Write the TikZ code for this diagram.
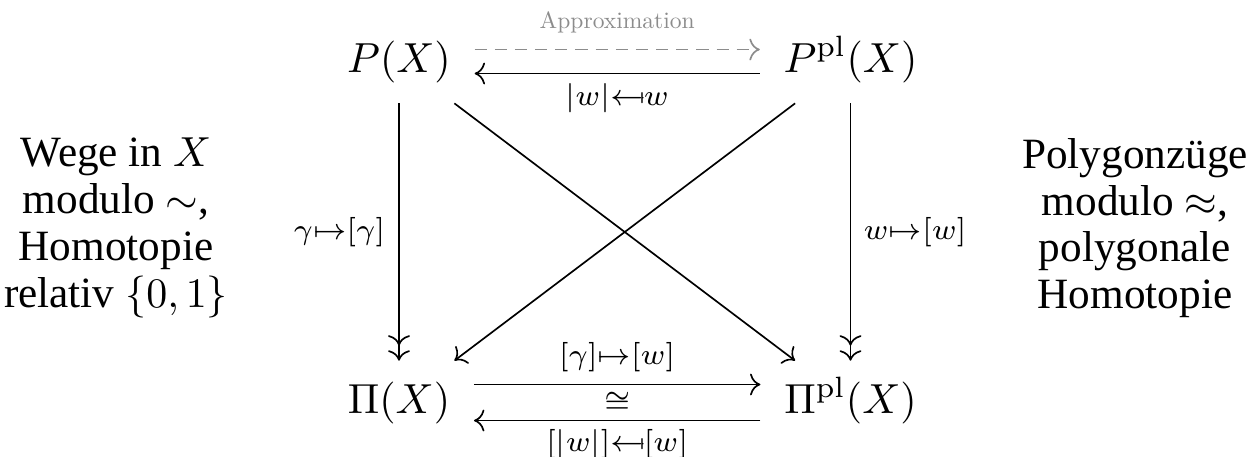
\documentclass[tikz,border=0pt]{standalone}
\usepackage{fontspec}
\newfontfamily\sidefont{Liberation Serif}
\newfontfamily\approxfont{lmroman10-regular.otf}
\usetikzlibrary{arrows.meta}
\definecolor{approxgray}{gray}{0.55}
\newcommand{\mymapsfrom}{\mathrel{\leftarrow\mkern-2.5mu\mapstochar\mkern2.5mu}}
\newcommand{\lbl}[1]{$\scriptstyle #1$}
\begin{document}
\begin{tikzpicture}[x=0.238095pt,y=-0.238095pt,
  obj/.style={font=\fontsize{10}{12}\selectfont, text height=7.5pt, text depth=2.5pt, inner xsep=5.48pt, inner ysep=4.76pt, anchor=base},
  lab/.style={font=\fontsize{10}{12}\selectfont, inner sep=0pt},
  side/.style={font=\fontsize{10.29}{11.14}\selectfont\sidefont, align=center, inner sep=0pt},
  arr/.style={line width=0.4pt, -{Computer Modern Rightarrow}},
  epi/.style={line width=0.4pt, -{Computer Modern Rightarrow[sep=1.1pt]Computer Modern Rightarrow}},
  approx/.style={arr, draw=approxgray, dash pattern=on 2.9pt off 1.9pt},
]
\useasboundingbox (0,0) rectangle (1248,456);
% objects
\node[obj] (P)    at (399,72)   {$P(X)$};
\node[obj] (Ppl)  at (850.5,72) {$P^{\mathrm{pl}}(X)$};
\node[obj] (Pi)   at (399,413)  {$\Pi(X)$};
\node[obj] (Pipl) at (850.5,413){$\Pi^{\mathrm{pl}}(X)$};
% side texts
\node[side] (L) at (116,228) {Wege in $X$\\modulo $\sim$,\\Homotopie\\relativ $\{0,1\}$};
\node[side] (R) at (1135,228) {Polygonzüge\\modulo $\approx$,\\polygonale\\Homotopie};
% top row
\draw[approx] ([yshift=2.857pt]P.east) -- ([yshift=2.857pt]Ppl.west)
  node[midway, above=3.8pt, inner sep=0pt, font=\fontsize{5.6}{7}\approxfont, text=approxgray] (ap) {Approximation};
\draw[arr] ([yshift=-2.857pt]Ppl.west) -- ([yshift=-2.857pt]P.east)
  node[midway, below=2.14pt, lab] (l1) {\lbl{|w|\mymapsfrom w}};
% verticals
\draw[epi] (P) -- (Pi) node[midway, left=3.1pt, lab] (l2) {\lbl{\gamma\mapsto[\gamma]}};
\draw[epi] (Ppl) -- (Pipl) node[midway, right=2.95pt, lab] (l3) {\lbl{w\mapsto[w]}};
% diagonals
\draw[arr] (P) -- (Pipl);
\draw[arr] (Ppl) -- (Pi);
% bottom row
\draw[arr] ([yshift=4.29pt]Pi.east) -- ([yshift=4.29pt]Pipl.west)
  node[midway, above=2.76pt, lab] (l4) {\lbl{[\gamma]\mapsto[w]}};
\path (Pi) -- (Pipl) node[midway, lab] (iso) {\lbl{\cong}};
\draw[arr] ([yshift=-4.29pt]Pipl.west) -- ([yshift=-4.29pt]Pi.east)
  node[midway, below=1.9pt, lab] (l5) {\lbl{[|w|]\mymapsfrom[w]}};
\end{tikzpicture}
\end{document}
